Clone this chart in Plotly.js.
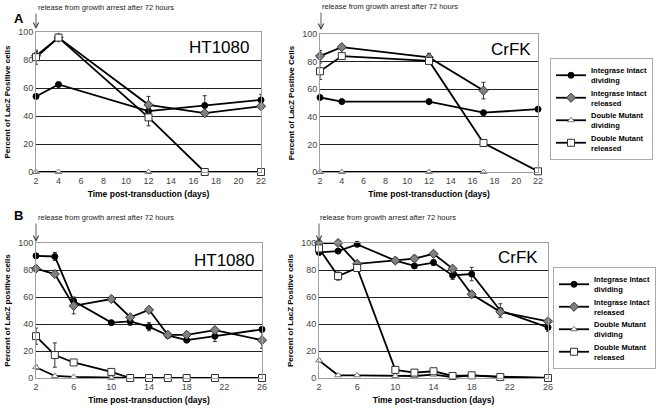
<!DOCTYPE html>
<html>
<head>
<meta charset="utf-8">
<script src="https://cdn.plot.ly/plotly-3.0.1.min.js"></script>
<style>html,body{margin:0;padding:0;background:#fff;}#chart{width:659px;height:410px;}</style>
</head>
<body>
<div id="chart"></div>
<script>
// ---------- Data ----------
var seriesNames = ["Integrase Intact<br>dividing", "Integrase Intact<br>released", "Double Mutant<br>dividing", "Double Mutant<br>released"];

// Panel A (x days)
var daysA_HT = [2, 4, 12, 17, 22];
var A_HT_intactDiv = [54, 62.5, 43.5, 47.5, 51.5];
var A_HT_intactDivErr = [1, 1.5, 1, 7, 4];
var A_HT_intactRel = [83, 96, 48, 42, 47];
var A_HT_intactRelErr = [3, 0, 6, 0, 2];
var A_HT_mutDiv = [0, 0, 0, 0, 0];
var A_HT_mutRel = [82, 96, 39, 0, 0];
var A_HT_mutRelErr = [5, 0, 6, 0, 0];

var daysA_CR = [2, 4, 12, 17, 22];
var A_CR_intactDiv = [54, 51, 51, 43, 45.5];
var A_CR_intactDivErr = [1, 0.5, 0.5, 0.5, 1.5];
var daysA_CR_rel = [2, 4, 12, 17];
var A_CR_intactRel = [84, 90.5, 83, 59];
var A_CR_intactRelErr = [4, 1, 3, 6];
var daysA_CR_mutDiv = [2, 4, 12, 17];
var A_CR_mutDiv = [0, 0, 0, 0];
var A_CR_mutRel = [73, 84, 80.5, 21, 0.5];
var A_CR_mutRelErr = [6, 2, 1, 0, 0];

// Panel B
var daysB = [2, 4, 6, 10, 12, 14, 16, 18, 21, 26];
var B_HT_intactDiv = [90.5, 90, 57, 41, 42, 38, 31.5, 28, 31, 36];
var B_HT_intactDivErr = [1, 3, 3, 1.5, 3, 3, 1, 1.5, 4, 1.5];
var B_HT_intactRel = [81, 77, 53.5, 58.5, 45, 50.5, 32, 32, 35.5, 28];
var B_HT_intactRelErr = [1, 1, 6, 1, 2, 1, 1, 2, 2, 6];
var B_HT_mutDiv = [8, 1.5, 0.8, 0, 0, 0, 0, 0, 0, 0];
var B_HT_mutDivErr = [1.5, 0.5, 0, 0, 0, 0, 0, 0, 0, 0];
var B_HT_mutRel = [31, 17, 11.5, 4.5, 0, 0, 0, 0, 0, 0];
var B_HT_mutRelErr = [6, 9, 1, 1, 0, 0, 0, 0, 0, 0];

var B_CR_intactDiv = [93, 94, 99, 87, 83, 85.5, 76, 77, 50, 37.5];
var B_CR_intactDivErr = [2, 1, 1, 1, 1, 2, 3, 5, 5, 3];
var B_CR_intactRel = [100, 100, 84.5, 87, 88.5, 92, 81, 62, 49, 42];
var B_CR_intactRelErr = [0, 0, 2, 1, 2, 1, 1, 2, 2, 1];
var B_CR_mutDiv = [13, 2, 2, 1.5, 1.5, 2.5, 0.7, 2, 1, 0];
var B_CR_mutDivErr = [1, 0, 0, 0, 0, 0.5, 0, 0, 0, 0];
var B_CR_mutRel = [96, 75.5, 81.5, 6, 4, 5, 1.5, 2, 0.7, 0];
var B_CR_mutRelErr = [2, 3, 2, 0, 0, 1, 0, 0, 0, 0];

var ticksA = [2, 4, 6, 8, 10, 12, 14, 16, 18, 20, 22];
var ticksB = [2, 6, 10, 14, 18, 22, 26];
var ticksY = [0, 20, 40, 60, 80, 100];

var releaseText = "release from growth arrest after 72 hours";
var xTitle = "<b>Time post-transduction (days)</b>";

// ---------- Styles ----------
var markerStyles = [
  {symbol: "circle", size: 6, color: "#000", line: {color: "#000", width: 1}},
  {symbol: "diamond", size: 7, color: "#808080", line: {color: "#333", width: 1}},
  {symbol: "triangle-up", size: 6, color: "#fff", line: {color: "#777", width: 1}},
  {symbol: "square", size: 7, color: "#fff", line: {color: "#333", width: 1}}
];

function tr(k, x, y, err, xa, ya, leg, show) {
  var t = {
    type: "scatter", mode: "lines+markers", x: x, y: y,
    xaxis: xa, yaxis: ya, name: seriesNames[k],
    legend: leg, showlegend: show, cliponaxis: false,
    line: {color: "#000", width: 1.8},
    marker: markerStyles[k]
  };
  if (err) {
    t.error_y = {type: "data", array: err, visible: true, color: "#333", thickness: 1, width: 2};
  }
  return t;
}

var data = [
  tr(0, daysA_HT, A_HT_intactDiv, A_HT_intactDivErr, "x", "y", "legend", true),
  tr(1, daysA_HT, A_HT_intactRel, A_HT_intactRelErr, "x", "y", "legend", true),
  tr(2, daysA_HT, A_HT_mutDiv, null, "x", "y", "legend", true),
  tr(3, daysA_HT, A_HT_mutRel, A_HT_mutRelErr, "x", "y", "legend", true),

  tr(0, daysA_CR, A_CR_intactDiv, A_CR_intactDivErr, "x2", "y2", "legend", false),
  tr(1, daysA_CR_rel, A_CR_intactRel, A_CR_intactRelErr, "x2", "y2", "legend", false),
  tr(2, daysA_CR_mutDiv, A_CR_mutDiv, null, "x2", "y2", "legend", false),
  tr(3, daysA_CR, A_CR_mutRel, A_CR_mutRelErr, "x2", "y2", "legend", false),

  tr(0, daysB, B_HT_intactDiv, B_HT_intactDivErr, "x3", "y3", "legend2", true),
  tr(1, daysB, B_HT_intactRel, B_HT_intactRelErr, "x3", "y3", "legend2", true),
  tr(2, daysB, B_HT_mutDiv, B_HT_mutDivErr, "x3", "y3", "legend2", true),
  tr(3, daysB, B_HT_mutRel, B_HT_mutRelErr, "x3", "y3", "legend2", true),

  tr(0, daysB, B_CR_intactDiv, B_CR_intactDivErr, "x4", "y4", "legend2", false),
  tr(1, daysB, B_CR_intactRel, B_CR_intactRelErr, "x4", "y4", "legend2", false),
  tr(2, daysB, B_CR_mutDiv, B_CR_mutDivErr, "x4", "y4", "legend2", false),
  tr(3, daysB, B_CR_mutRel, B_CR_mutRelErr, "x4", "y4", "legend2", false)
];

var W = 659, H = 410;
function px(v) { return v / W; }
function py(v) { return 1 - v / H; }

function xax(dom, anchor, ticks, rng) {
  return {
    domain: dom, anchor: anchor, range: rng, tickvals: ticks, ticktext: ticks.map(String),
    showgrid: false, zeroline: false, showline: true, mirror: true, linecolor: "#a0a0a0", linewidth: 1,
    ticks: "", tickfont: {family: "Liberation Sans, Arial", size: 9, color: "#444"},
    title: {text: xTitle, font: {family: "Liberation Sans, Arial", size: 8.5, color: "#000"}, standoff: 6},
    fixedrange: true
  };
}
function yax(dom, anchor, title) {
  return {
    domain: dom, anchor: anchor, range: [0, 100], tickvals: ticksY, ticktext: ticksY.map(String),
    showgrid: true, gridcolor: "#222", gridwidth: 1, zeroline: false,
    showline: true, mirror: true, linecolor: "#a0a0a0", linewidth: 1,
    ticks: "", tickfont: {family: "Liberation Sans, Arial", size: 9, color: "#444"},
    title: {text: "<b>" + title + "</b>", font: {family: "Liberation Sans, Arial", size: 8, color: "#000"}, standoff: 6},
    fixedrange: true
  };
}

var legendFont = {family: "Liberation Sans, Arial", size: 7.5, color: "#000", weight: "bold"};

var annFont = {family: "Liberation Sans, Arial", size: 7.5, color: "#222"};
var bigFont = {family: "Liberation Sans, Arial", size: 17, color: "#000"};
var annotations = [
  {text: "<b>A</b>", xref: "paper", yref: "paper", x: px(12), y: py(9), showarrow: false, font: {family: "Liberation Sans, Arial", size: 13, color: "#000"}},
  {text: "<b>B</b>", xref: "paper", yref: "paper", x: px(12), y: py(215), showarrow: false, font: {family: "Liberation Sans, Arial", size: 13, color: "#000"}},
  {text: releaseText, xref: "paper", yref: "paper", x: px(36), y: py(7), xanchor: "left", yanchor: "middle", showarrow: false, font: annFont},
  {text: releaseText, xref: "paper", yref: "paper", x: px(320), y: py(6), xanchor: "left", yanchor: "middle", showarrow: false, font: annFont},
  {text: releaseText, xref: "paper", yref: "paper", x: px(36), y: py(217), xanchor: "left", yanchor: "middle", showarrow: false, font: annFont},
  {text: releaseText, xref: "paper", yref: "paper", x: px(318), y: py(217), xanchor: "left", yanchor: "middle", showarrow: false, font: annFont},
  {text: "", xref: "paper", yref: "paper", x: px(36), y: py(29), ax: 0, ay: -17, showarrow: true, arrowhead: 5, arrowsize: 1.3, arrowwidth: 0.8, arrowcolor: "#333"},
  {text: "", xref: "paper", yref: "paper", x: px(321), y: py(30), ax: 0, ay: -19, showarrow: true, arrowhead: 5, arrowsize: 1.3, arrowwidth: 0.8, arrowcolor: "#333"},
  {text: "", xref: "paper", yref: "paper", x: px(36), y: py(242), ax: 0, ay: -20, showarrow: true, arrowhead: 5, arrowsize: 1.3, arrowwidth: 0.8, arrowcolor: "#333"},
  {text: "", xref: "paper", yref: "paper", x: px(319), y: py(242), ax: 0, ay: -20, showarrow: true, arrowhead: 5, arrowsize: 1.3, arrowwidth: 0.8, arrowcolor: "#333"},
  {text: "HT1080", xref: "x domain", yref: "y domain", x: 0.955, y: 0.886, xanchor: "right", yanchor: "middle", showarrow: false, font: bigFont},
  {text: "CrFK", xref: "x2 domain", yref: "y2 domain", x: 0.977, y: 0.886, xanchor: "right", yanchor: "middle", showarrow: false, font: bigFont},
  {text: "HT1080", xref: "x3 domain", yref: "y3 domain", x: 0.975, y: 0.874, xanchor: "right", yanchor: "middle", showarrow: false, font: bigFont},
  {text: "CrFK", xref: "x4 domain", yref: "y4 domain", x: 0.965, y: 0.889, xanchor: "right", yanchor: "middle", showarrow: false, font: bigFont}
];

var layout = {
  width: W, height: H,
  margin: {l: 0, r: 0, t: 0, b: 0},
  paper_bgcolor: "#fff", plot_bgcolor: "#fff",
  font: {family: "Liberation Sans, Arial", color: "#000"},
  xaxis: xax([px(36), px(261)], "y", ticksA, [2, 22]),
  yaxis: yax([py(172), py(32)], "x", "Percent of LacZ Positive cells"),
  xaxis2: xax([px(320), px(538)], "y2", ticksA, [2, 22]),
  yaxis2: yax([py(172), py(34)], "x2", "Percent of LacZ Positive Cells"),
  xaxis3: xax([px(36), px(262)], "y3", ticksB, [2, 26]),
  yaxis3: yax([py(378), py(243)], "x3", "Percent of LacZ positive cells"),
  xaxis4: xax([px(319), px(548)], "y4", ticksB, [2, 26]),
  yaxis4: yax([py(378), py(243)], "x4", "Percent of LacZ Positive cells"),
  legend: {x: px(550), y: py(58), xanchor: "left", yanchor: "top", bordercolor: "#aaa", borderwidth: 1,
           bgcolor: "#fff", font: legendFont, itemwidth: 30, tracegroupgap: 2},
  legend2: {x: px(553), y: py(267), xanchor: "left", yanchor: "top", bordercolor: "#aaa", borderwidth: 1,
            bgcolor: "#fff", font: legendFont, itemwidth: 30, tracegroupgap: 2},
  annotations: annotations,
  showlegend: true
};

Plotly.newPlot("chart", data, layout, {staticPlot: true, displayModeBar: false});
</script>
</body>
</html>
